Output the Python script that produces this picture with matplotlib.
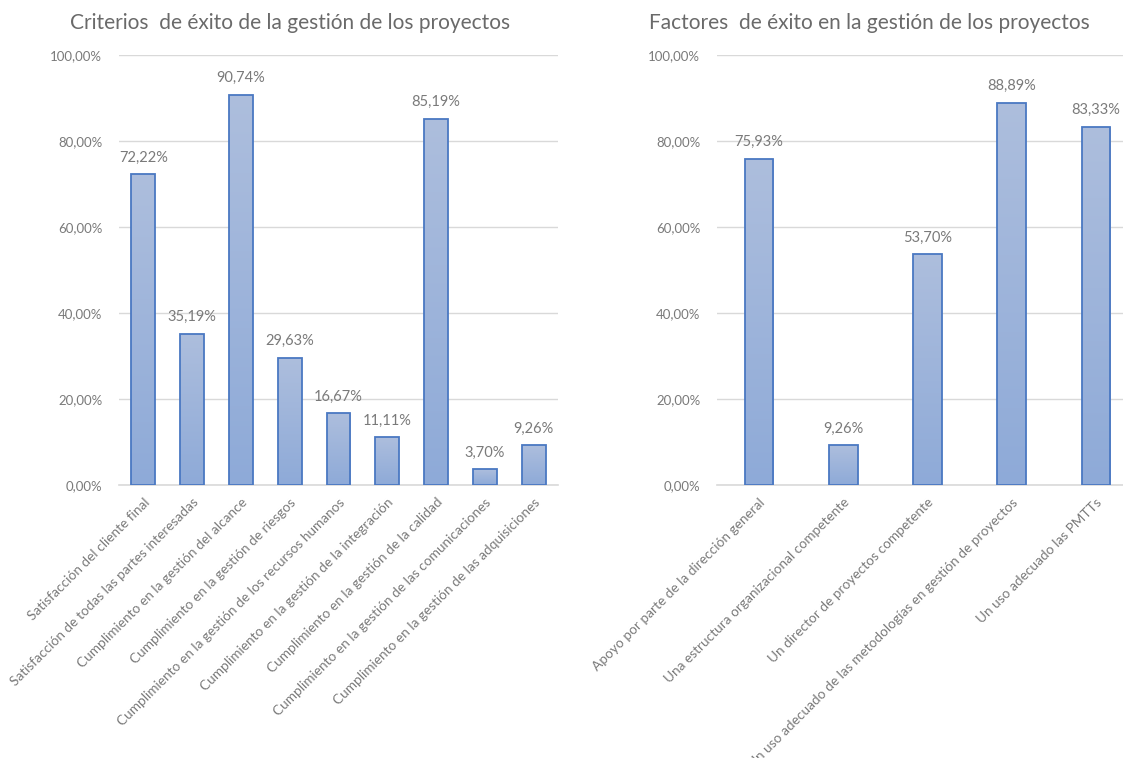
import matplotlib.pyplot as plt
import numpy as np
from matplotlib.colors import LinearSegmentedColormap
from matplotlib.ticker import FuncFormatter

plt.rcParams["font.family"] = ["Lato", "DejaVu Sans"]

# Datos
criterios = [
    "Satisfacción del cliente final",
    "Satisfacción de todas las partes interesadas",
    "Cumplimiento en la gestión del alcance",
    "Cumplimiento en la gestión de riesgos",
    "Cumplimiento en la gestión de los recursos humanos",
    "Cumplimiento en la gestión de la integración",
    "Cumplimiento en la gestión de la calidad",
    "Cumplimiento en la gestión de las comunicaciones",
    "Cumplimiento en la gestión de las adquisiciones",
]
criterios_pct = [72.22, 35.19, 90.74, 29.63, 16.67, 11.11, 85.19, 3.70, 9.26]

factores = [
    "Apoyo por parte de la dirección general",
    "Una estructura organizacional competente",
    "Un director de proyectos competente",
    "Un uso adecuado de las metodologías en gestión de proyectos",
    "Un uso adecuado las PMTTs",
]
factores_pct = [75.93, 9.26, 53.70, 88.89, 83.33]

TITLE = "#6a6a6a"
TEXT = "#7a7a7a"
GRID = "#d9d9d9"
EDGE = "#4a78c2"
grad = LinearSegmentedColormap.from_list("barra", ["#8eaad8", "#adbedd"])


def pct(v):
    return f"{v:.2f}".replace(".", ",") + "%"


def panel(ax, labels, values, width):
    x = np.arange(len(labels))
    bars = ax.bar(x, values, width=width, color="none", edgecolor=EDGE,
                  linewidth=1.3, zorder=4)
    g = np.linspace(0, 1, 256).reshape(-1, 1)
    for b in bars:
        x0, w, h = b.get_x(), b.get_width(), b.get_height()
        im = ax.imshow(g, extent=[x0, x0 + w, 0, h], origin="lower",
                       aspect="auto", cmap=grad, zorder=3)
        im.set_clip_path(b)
        ax.text(x0 + w / 2, h + 2.2, pct(h), ha="center", va="bottom",
                color=TEXT, fontsize=10.5)

    ax.set_xlim(-0.5, len(labels) - 0.5)
    ax.set_ylim(0, 100)
    ax.set_yticks(np.arange(0, 101, 20))
    ax.yaxis.set_major_formatter(FuncFormatter(lambda v, p: pct(v)))
    ax.yaxis.grid(True, color=GRID, linewidth=1.0, zorder=0)
    ax.set_axisbelow(True)
    for s in ["top", "right", "left"]:
        ax.spines[s].set_visible(False)
    ax.spines["bottom"].set_color(GRID)
    ax.spines["bottom"].set_linewidth(1.2)
    ax.tick_params(axis="y", length=0, pad=12, colors=TEXT, labelsize=9.5)
    ax.tick_params(axis="x", length=0, pad=8, colors=TEXT, labelsize=9.8)
    ax.set_xticks(x)
    ax.set_xticklabels(labels, rotation=45, ha="right", va="top",
                       rotation_mode="anchor")


fig = plt.figure(figsize=(11.23, 7.58), dpi=100)
fig.patch.set_facecolor("white")

ax1 = fig.add_axes([119 / 1123, 1 - 485 / 758, 439 / 1123, 430 / 758])
ax2 = fig.add_axes([717 / 1123, 1 - 485 / 758, 421 / 1123, 430 / 758])

panel(ax1, criterios, criterios_pct, 0.49)
panel(ax2, factores, factores_pct, 0.34)

fig.text(290 / 1123, 1 - 23 / 758,
         "Criterios  de éxito de la gestión de los proyectos",
         ha="center", va="center", color=TITLE, fontsize=15)
fig.text(869 / 1123, 1 - 23 / 758,
         "Factores  de éxito en la gestión de los proyectos",
         ha="center", va="center", color=TITLE, fontsize=15)

fig.savefig("out.png", dpi=100, facecolor="white")
